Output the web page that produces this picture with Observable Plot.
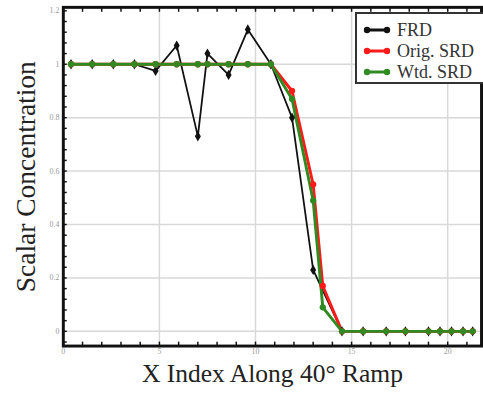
<!DOCTYPE html>
<html>
<head>
<meta charset="utf-8">
<script src="https://cdn.jsdelivr.net/npm/d3@7"></script>
<script src="https://cdn.jsdelivr.net/npm/@observablehq/plot@0.6"></script>
<style>
  html, body { margin: 0; padding: 0; background: #fff; overflow: hidden; }
  #wrap { position: relative; width: 483px; height: 396px; overflow: hidden; }
  #legend { position: absolute; left: 355px; top: 12px; width: 140px; height: 68px;
    border: 2px solid #333; background: #fff; font-family: "Liberation Serif", "DejaVu Serif", serif;
    font-size: 18px; color: #333; }
  .row { position: absolute; left: 6px; height: 20px; display: flex; align-items: center; }
  .row svg { margin-right: 6px; }
</style>
</head>
<body>
<div id="wrap"><div id="chart"></div><div id="legend"></div></div>
<script>
const xIndex = [0.4, 1.5, 2.6, 3.7, 4.8, 5.9, 7.0, 7.5, 8.6, 9.6, 10.8, 11.9, 13.0, 13.5, 14.5, 15.6, 16.8, 17.8, 19.0, 19.6, 20.2, 20.8, 21.3];
const frd   = [1, 1, 1, 1, 0.975, 1.07, 0.73, 1.04, 0.96, 1.13, 1.0, 0.8, 0.23, null, 0, 0, 0, 0, 0, 0, 0, 0, 0];
const orig  = [1, 1, 1, 1, 1, 1, 1, 1, 1, 1, 1, 0.9, 0.55, 0.17, 0, 0, 0, 0, 0, 0, 0, 0, 0];
const wtd   = [1, 1, 1, 1, 1, 1, 1, 1, 1, 1, 1, 0.87, 0.49, 0.09, 0, 0, 0, 0, 0, 0, 0, 0, 0];
const seriesNames = ["FRD", "Orig. SRD", "Wtd. SRD"];
const seriesColors = ["#111111", "#ff1a1a", "#2f8a22"];
const xTicks = [0, 5, 10, 15, 20];
const yTicks = [0, 0.2, 0.4, 0.6, 0.8, 1, 1.2];
const xLabel = "X Index Along 40° Ramp";
const yLabel = "Scalar Concentration";

const rows = [];
[frd, orig, wtd].forEach((vals, s) => {
  vals.forEach((v, i) => { if (v !== null) rows.push({series: seriesNames[s], x: xIndex[i], y: v}); });
});
const bySeries = name => rows.filter(d => d.series === name);
const serif = "Liberation Serif, DejaVu Serif, serif";

const chart = Plot.plot({
  width: 492, height: 396,
  marginLeft: 64, marginRight: 2, marginTop: 7, marginBottom: 44,
  style: {fontFamily: serif, background: "#fff"},
  x: {domain: [0, 21.76]},
  y: {domain: [-0.055, 1.213]},
  marks: [
    Plot.gridX(xTicks.slice(1), {stroke: "#d8d8d8", strokeOpacity: 1, strokeWidth: 1.5}),
    Plot.gridY(yTicks.slice(0, -1), {stroke: "#d8d8d8", strokeOpacity: 1, strokeWidth: 1.5}),
    Plot.axisX({ticks: d3.range(0, 22, 1), tickSize: -4, text: null, label: null, stroke: "#111", strokeWidth: 1.5}),
    Plot.axisX({anchor: "top", ticks: d3.range(0, 22, 1), tickSize: -4, text: null, label: null, stroke: "#111", strokeWidth: 1.5}),
    Plot.axisY({ticks: d3.range(-0.04, 1.21, 0.04), tickSize: -4, text: null, label: null, stroke: "#111", strokeWidth: 1.5}),
    Plot.axisX({ticks: xTicks, tickSize: 0, tickPadding: 2, fontSize: 8, fill: "#999", label: null}),
    Plot.axisY({ticks: yTicks, tickSize: 0, tickPadding: 4, fontSize: 8, fill: "#999", label: null, tickFormat: d => String(+d.toFixed(1))}),
    Plot.frame({stroke: "#111", strokeWidth: 3}),
    ...seriesNames.map((name, s) => Plot.line(bySeries(name), {x: "x", y: "y", stroke: seriesColors[s], strokeWidth: s === 0 ? 1.8 : 3})),
    ...seriesNames.map((name, s) => Plot.dot(bySeries(name), {x: "x", y: "y", fill: seriesColors[s], r: 3.2, symbol: s === 0 ? "diamond" : "circle"})),
    Plot.text([xLabel], {frameAnchor: "bottom", dy: 37, text: d => d, fontSize: 26, fill: "#222", fontFamily: serif}),
    Plot.text([yLabel], {frameAnchor: "left", dx: -38, rotate: -90, textAnchor: "middle", text: d => d, fontSize: 28, fill: "#222", fontFamily: serif})
  ]
});
document.getElementById("chart").appendChild(chart);

const legend = document.getElementById("legend");
seriesNames.forEach((name, s) => {
  const row = document.createElement("div");
  row.className = "row";
  row.style.top = (6 + s * 21) + "px";
  const c = seriesColors[s];
  row.innerHTML = `<svg width="28" height="10"><line x1="3" y1="5" x2="25" y2="5" stroke="${c}" stroke-width="3"/><circle cx="4" cy="5" r="3.2" fill="${c}"/><circle cx="24" cy="5" r="3.2" fill="${c}"/></svg><span>${name}</span>`;
  legend.appendChild(row);
});
</script>
</body>
</html>
